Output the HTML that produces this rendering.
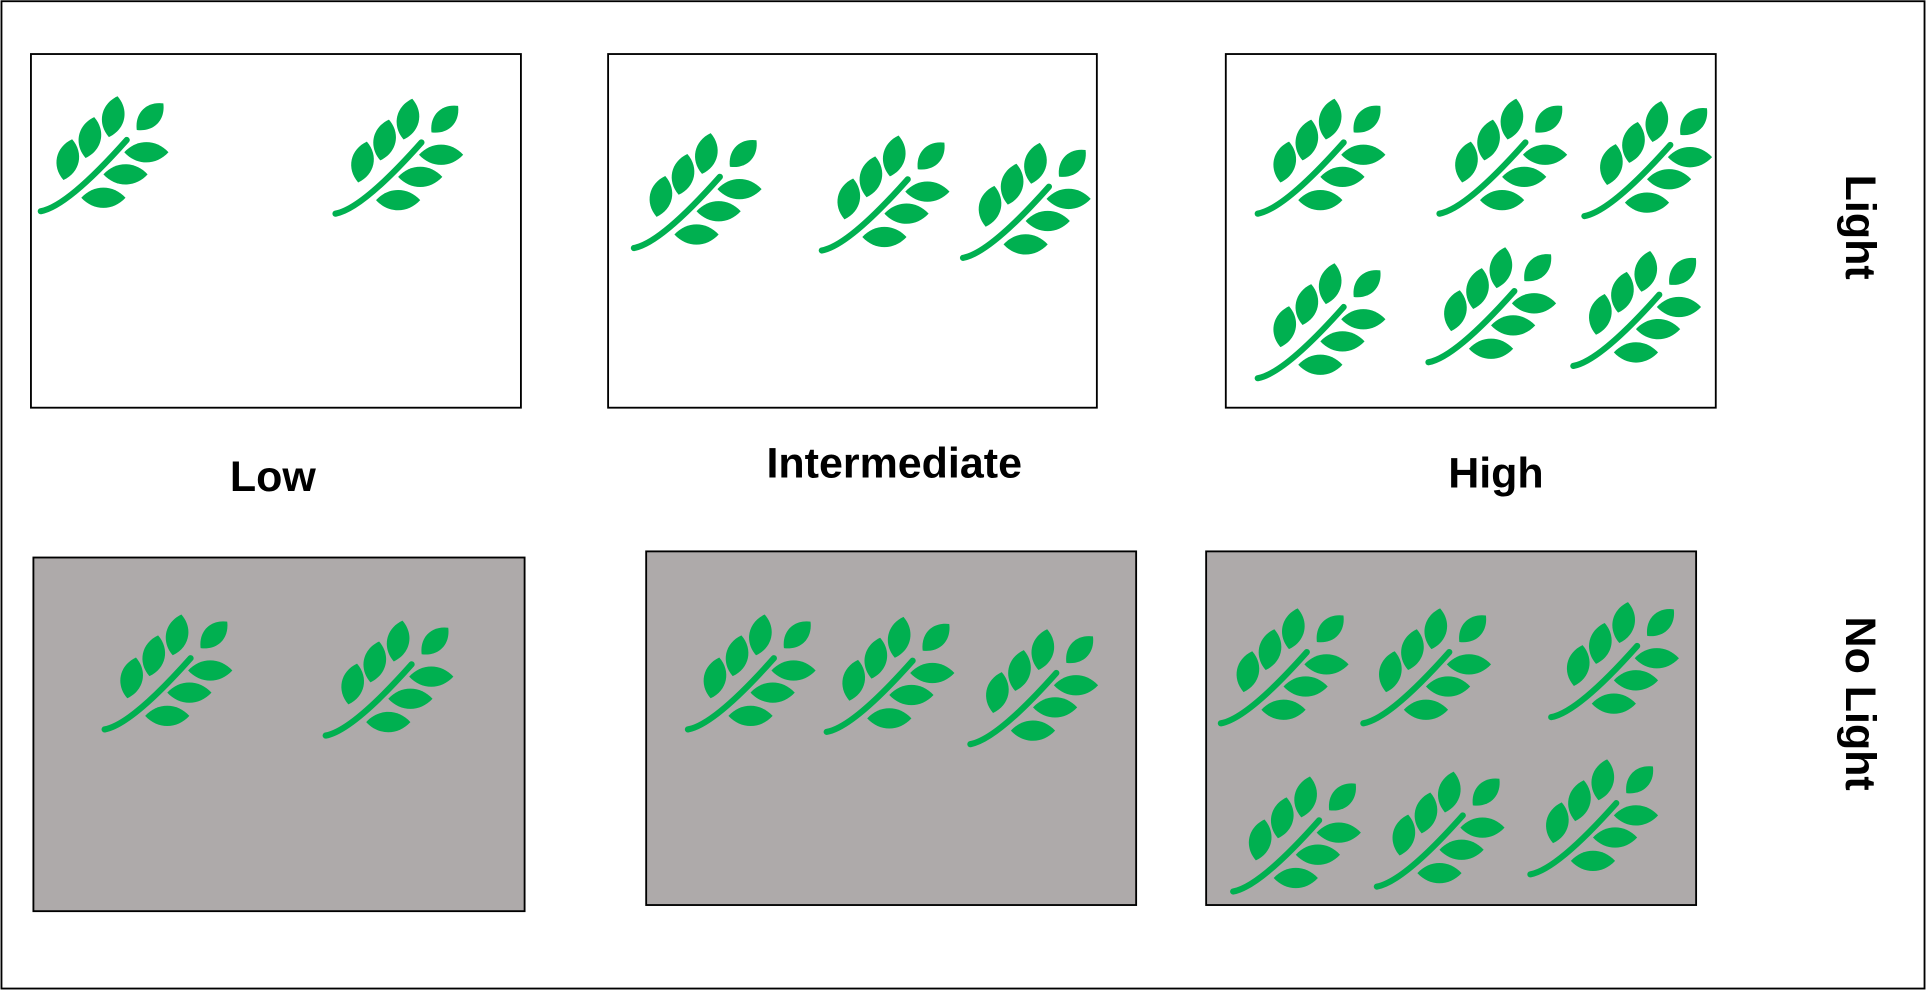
<!DOCTYPE html>
<html><head><meta charset="utf-8"><style>html,body{margin:0;padding:0;background:#fff}svg{display:block}</style></head>
<body>
<svg width="1926" height="991" viewBox="0 0 1568 807" xmlns="http://www.w3.org/2000/svg" font-family="Liberation Sans, sans-serif">
<defs>
<path id="leafv" d="M0,-17 C12,-8 12,8 0,17 C-12,8 -12,-8 0,-17Z"/>
<path id="leafh" d="M-18,0 C-8,-11 8,-11 18,0 C8,11 -8,11 -18,0Z"/>
<g id="plant">
<path d="M0,94 Q22,90 70,36" fill="none" stroke="#00b050" stroke-width="5" stroke-linecap="round"/>
<g fill="#00b050">
<use href="#leafv" transform="translate(22,52) rotate(12)"/>
<use href="#leafv" transform="translate(40,34) rotate(12)"/>
<use href="#leafv" transform="translate(59,17) rotate(12)"/>
<use href="#leafh" transform="translate(51,83)"/>
<use href="#leafh" transform="translate(69,64)"/>
<use href="#leafh" transform="translate(86,46)"/>
<use href="#leafh" transform="translate(89,17) rotate(-45) scale(0.85,1)"/>
</g>
</g>
</defs>
<rect x="1" y="1" width="1566" height="804" fill="#fff" stroke="#000" stroke-width="1.5"/>
<rect x="25" y="44" width="399" height="288" fill="#fff" stroke="#000" stroke-width="1.5"/>
<rect x="495" y="44" width="398" height="288" fill="#fff" stroke="#000" stroke-width="1.5"/>
<rect x="998" y="44" width="399" height="288" fill="#fff" stroke="#000" stroke-width="1.5"/>
<rect x="27" y="454" width="400" height="288" fill="#aeaaaa" stroke="#000" stroke-width="1.5"/>
<rect x="526" y="449" width="399" height="288" fill="#aeaaaa" stroke="#000" stroke-width="1.5"/>
<rect x="982" y="449" width="399" height="288" fill="#aeaaaa" stroke="#000" stroke-width="1.5"/>
<g>
<use href="#plant" x="33" y="78"/><use href="#plant" x="273" y="80"/>
<use href="#plant" x="516" y="108"/><use href="#plant" x="669" y="110"/><use href="#plant" x="784" y="116"/>
<use href="#plant" x="1024" y="80"/><use href="#plant" x="1172" y="80"/><use href="#plant" x="1290" y="82"/>
<use href="#plant" x="1024" y="214"/><use href="#plant" x="1163" y="201"/><use href="#plant" x="1281" y="204"/>
<use href="#plant" x="85" y="500"/><use href="#plant" x="265" y="505"/>
<use href="#plant" x="560" y="500"/><use href="#plant" x="673" y="502"/><use href="#plant" x="790" y="512"/>
<use href="#plant" x="994" y="495"/><use href="#plant" x="1110" y="495"/><use href="#plant" x="1263" y="490"/>
<use href="#plant" x="1004" y="632"/><use href="#plant" x="1121" y="628"/><use href="#plant" x="1246" y="618"/>
</g>
<g font-weight="bold" font-size="35" fill="#000" text-anchor="middle">
<text x="222" y="400">Low</text>
<text x="728" y="389">Intermediate</text>
<text x="1218" y="397">High</text>
<text transform="translate(1503 185) rotate(90)">Light</text>
<text transform="translate(1503 573) rotate(90)">No Light</text>
</g>
</svg>
</body></html>
